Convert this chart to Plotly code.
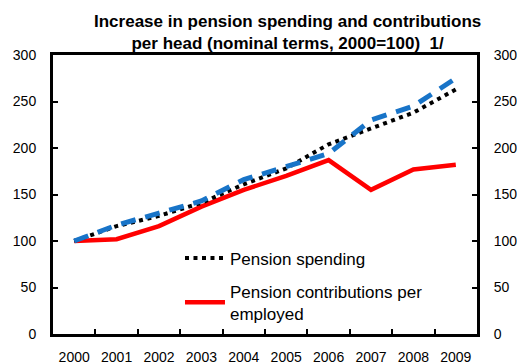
import plotly.graph_objects as go

# Index values, 2000 = 100
years = ["2000", "2001", "2002", "2003", "2004", "2005", "2006", "2007", "2008", "2009"]
pension_spending = [100, 116, 127, 141, 161, 178, 204, 221, 238, 263]
contributions_per_employed = [100, 102, 116, 137, 155, 170, 187, 155, 177, 182]
dashed_index = [100, 117, 130, 143, 166, 180, 194, 230, 245, 275]

y_ticks = [0, 50, 100, 150, 200, 250, 300]

title_text = "Increase in pension spending and contributions<br>per head (nominal terms, 2000=100)  1/"

FONT = "Liberation Sans, Arial, sans-serif"

fig = go.Figure()

fig.add_trace(go.Scatter(
    x=years, y=contributions_per_employed, mode="lines",
    name="Pension contributions per<br>employed",
    line=dict(color="#ff0000", width=4.5),
    legendgroup="b", legendrank=2,
))
fig.add_trace(go.Scatter(
    x=years, y=dashed_index, mode="lines", yaxis="y2",
    line=dict(color="#1874c8", width=5, dash="15px,10px"),
    showlegend=False,
))
fig.add_trace(go.Scatter(
    x=years, y=pension_spending, mode="lines",
    name="Pension spending",
    line=dict(color="#000000", width=4, dash="4px,4.5px"),
    legendgroup="a", legendrank=1,
))

axis_common = dict(
    showgrid=False, zeroline=False, automargin=False,
    showline=True, linecolor="black", linewidth=3,
    ticks="inside", ticklen=5, tickwidth=2, tickcolor="black",
    tickfont=dict(family=FONT, size=14, color="black"),
)

fig.update_layout(
    width=517, height=364,
    margin=dict(l=53, r=40, t=55, b=30),
    paper_bgcolor="white", plot_bgcolor="white",
    xaxis=dict(
        **axis_common, type="category", tickson="boundaries",
        range=[-0.5, 9.5], mirror=True, ticklabelstandoff=8,
    ),
    yaxis=dict(
        **axis_common, range=[0, 300], tickvals=y_ticks,
        mirror=True, ticklabelstandoff=11,
    ),
    yaxis2=dict(
        **axis_common, range=[0, 300], tickvals=y_ticks,
        overlaying="y", side="right", ticklabelstandoff=11,
    ),
    legend=dict(
        x=0.2995, y=0.335, xanchor="left", yanchor="top",
        bgcolor="rgba(0,0,0,0)",
        font=dict(family=FONT, size=17, color="black"),
        itemwidth=40,
        tracegroupgap=8,
        traceorder="grouped",
    ),
    showlegend=True,
    annotations=[dict(
        text=title_text, showarrow=False,
        xref="paper", yref="paper", x=0.552, y=1.08,
        xanchor="center", yanchor="middle",
        font=dict(family=FONT, size=17, color="black", weight="bold"),
    )],
)

fig.write_html("out.html")
